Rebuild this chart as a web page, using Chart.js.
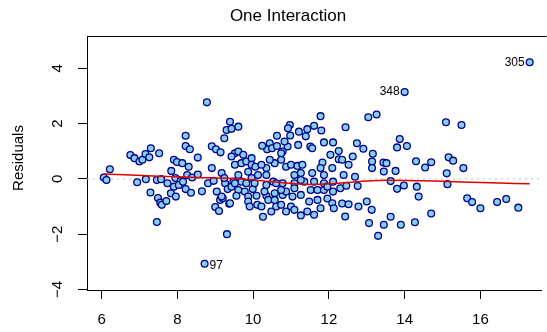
<!DOCTYPE html>
<html>
<head>
<meta charset="utf-8">
<script src="https://cdn.jsdelivr.net/npm/chart.js@4.4.1/dist/chart.umd.min.js"></script>
<style>
  html, body { margin: 0; padding: 0; background: #fff; }
  #wrap { width: 547px; height: 332px; }
</style>
</head>
<body>
<div id="wrap"><canvas id="myChart" width="547" height="332"></canvas></div>
<script>
// fitted values / residuals
var fitted = [
    6.06, 6.13, 6.22, 6.76, 6.87, 7.00, 7.08, 7.16, 7.30, 7.26, 7.52, 6.94, 7.17, 7.46, 7.57, 7.29,
    7.49, 7.55, 7.59, 7.71, 7.46, 7.74, 7.84, 7.91, 7.99, 8.13, 8.30, 8.26, 7.95, 8.09, 7.91, 8.04,
    7.83, 7.96, 8.22, 8.36, 8.15, 8.39, 8.54, 8.54, 8.91, 8.65, 8.81, 8.96, 9.04, 9.13, 9.00, 9.10,
    9.20, 9.37, 9.31, 9.26, 9.33, 9.17, 9.24, 8.78, 9.39, 9.30, 9.43, 9.61, 9.24, 8.22, 8.22, 8.33,
    8.91, 9.02, 9.14, 9.52, 9.43, 9.61, 9.74, 9.52, 9.69, 9.82, 9.61, 9.48, 9.69, 9.43, 9.61, 9.56,
    9.52, 9.39, 9.17, 9.96, 9.96, 10.06, 9.87, 9.96, 10.13, 9.99, 9.78, 9.82, 10.04, 9.87, 10.09, 9.87,
    9.91, 10.11, 10.22, 10.26, 10.35, 10.30, 10.35, 10.35, 10.57, 10.44, 10.37, 10.24, 10.44, 10.63, 10.50, 10.63,
    10.22, 10.40, 10.57, 10.53, 10.48, 10.61, 10.57, 10.35, 10.61, 10.78, 10.74, 10.91, 10.83, 10.97, 10.92, 11.21,
    11.43, 11.61, 11.80, 11.39, 10.98, 11.19, 11.51, 11.56, 11.87, 12.11, 12.26, 11.78, 10.74, 10.87, 11.00, 11.17,
    11.30, 11.09, 11.26, 11.35, 11.56, 11.83, 11.78, 11.87, 10.78, 11.09, 11.61, 11.87, 11.26, 10.78, 10.87, 11.09,
    10.74, 11.04, 11.26, 11.52, 11.70, 11.87, 11.48, 11.70, 10.74, 11.00, 10.87, 11.09, 11.26, 11.43, 11.61, 11.78,
    11.96, 12.04, 12.26, 12.09, 12.35, 12.52, 12.63, 12.44, 12.74, 12.91, 13.16, 13.04, 13.26, 13.14, 13.14, 13.44,
    13.45, 12.39, 12.69, 12.11, 11.96, 12.30, 12.46, 12.76, 12.11, 12.09, 12.35, 12.52, 12.78, 13.00, 13.13, 12.43,
    12.13, 13.06, 13.30, 13.45, 13.87, 13.80, 14.06, 15.09, 15.50, 13.52, 13.76, 14.30, 14.54, 14.70, 15.16, 15.28,
    15.55, 15.11, 13.63, 13.80, 13.98, 14.32, 14.37, 15.13, 15.65, 15.78, 16.00, 16.44, 16.68, 17.00, 14.70, 13.63,
    13.90, 14.27
];
var residuals = [
    0.05, -0.04, 0.35, 0.86, 0.75, 0.63, 0.69, 0.90, 1.11, 0.78, 0.93, -0.12, -0.01, -0.04, -0.01, -0.49,
    -0.69, -0.86, -0.94, -0.80, -1.56, -0.16, 0.29, 0.69, 0.61, 0.57, 0.44, 0.14, 0.03, -0.07, -0.28, -0.22,
    -0.52, -0.64, -0.37, -0.50, -0.10, 0.05, 0.16, 0.77, 0.39, -0.45, -0.16, -0.07, -0.46, -0.76, -1.02, -1.16,
    -0.70, -0.90, -2.00, -0.16, -0.37, 0.21, 0.03, 2.77, 2.07, 1.77, 1.81, 1.89, 1.47, 1.56, 1.19, 1.07,
    1.18, 1.07, 0.96, 0.93, 0.81, 0.99, 0.87, 0.51, 0.57, 0.63, 0.14, -0.10, -0.10, -0.28, -0.40, -0.61,
    -0.16, -0.88, -0.64, 0.75, 0.51, 0.44, 0.26, 0.03, 0.14, -0.37, -0.46, -0.16, -0.16, -0.64, -0.61, -0.82,
    -1.00, -0.94, -1.00, -1.37, -0.61, -0.46, -0.22, 0.39, 0.57, 0.69, 1.07, 1.20, 1.29, 1.56, 1.11, 1.19,
    0.51, -0.76, -0.52, -0.10, -1.18, -1.00, -0.76, 0.14, -0.16, 0.99, 0.69, 1.17, 1.35, 1.95, 1.83, 1.71,
    1.80, 1.92, 1.75, 1.54, 1.57, 1.23, 1.17, 1.11, 1.32, 1.32, 1.01, 2.27, 0.93, 0.44, 0.51, 0.47,
    0.51, 0.14, 0.21, -0.10, 0.21, 0.59, 0.39, 0.14, -0.16, -0.16, -0.10, -0.16, -0.04, -0.58, -0.46, -0.34,
    -0.40, -0.64, -0.58, -0.40, -0.40, -0.40, -0.82, -0.76, -0.94, -1.00, -1.18, -1.12, -1.32, -1.18, -1.30, -1.06,
    -0.71, 0.87, 0.71, 0.39, 0.69, 0.51, 0.81, 1.87, 1.29, 1.09, 0.91, 2.23, 2.33, 0.63, 0.39, 0.59,
    0.27, 0.14, 0.08, -0.10, -0.28, -0.34, -0.25, -0.26, -0.46, -0.88, -0.89, -0.92, -1.00, -0.82, -1.12, -1.36,
    -1.06, -1.60, -2.06, -1.66, 1.44, 1.14, 1.19, 2.05, 1.95, 0.57, 0.29, 0.64, 0.41, 0.60, 0.78, 0.66,
    0.39, 0.20, -0.08, -0.36, -0.24, -0.28, -0.64, -0.19, -0.70, -0.84, -1.06, -0.84, -0.73, -1.04, -1.25, -1.37,
    -1.66, -1.57
];

// labelled observations
var tagNames = ["97", "348", "305"];
var tagFitted = [8.72, 14.00, 17.30];
var tagResid = [-3.07, 3.14, 4.22];
var tagSide = ["right", "left", "left"];

// smoother (red)
var smoothX = [6.05, 7.5, 8.5, 9.5, 10.5, 11.0, 11.5, 12.0, 12.5, 13.0, 13.5, 14.5, 15.5, 16.5, 17.3];
var smoothY = [0.18, 0.10, 0.05, 0.01, -0.10, -0.16, -0.20, -0.18, -0.13, -0.08, -0.05, -0.07, -0.11, -0.15, -0.18];

var xTicks = [6, 8, 10, 12, 14, 16];
var yTicks = [-4, -2, 0, 2, 4];
var xMin = 5.616, xMax = 17.617;
var yMin = -4.02, yMax = 5.17;

var FONT = "'Liberation Sans', Arial, Helvetica, sans-serif";

var pts = [];
for (var i = 0; i < fitted.length; i++) {
    pts.push({x: fitted[i], y: residuals[i]});
}
for (var i = 0; i < tagNames.length; i++) {
    pts.push({x: tagFitted[i], y: tagResid[i]});
}
var smooth = [];
for (var i = 0; i < smoothX.length; i++) {
    smooth.push({x: smoothX[i], y: smoothY[i]});
}

function minusLabel(v) {
    return v < 0 ? "\u2212" + Math.abs(v) : String(v);
}

var decor = {
    id: "decor",
    afterDraw: function (chart) {
        var ctx = chart.ctx, area = chart.chartArea;
        var xs = chart.scales.x, ys = chart.scales.y;
        ctx.save();
        // box: top edge (right edge lies off the picture)
        ctx.strokeStyle = "#000";
        ctx.lineWidth = 1;
        ctx.beginPath();
        ctx.moveTo(area.left, area.top + 0.5);
        ctx.lineTo(area.right + 5, area.top + 0.5);
        ctx.stroke();

        ctx.fillStyle = "#000";
        // title
        ctx.font = "17px " + FONT;
        ctx.textAlign = "center";
        ctx.textBaseline = "middle";
        ctx.fillText("One Interaction", 288, 16);

        // y tick labels, rotated like R
        ctx.font = "15px " + FONT;
        yTicks.forEach(function (v) {
            var py = ys.getPixelForValue(v);
            ctx.save();
            ctx.translate(58, py);
            ctx.rotate(-Math.PI / 2);
            ctx.textAlign = "center";
            ctx.textBaseline = "middle";
            ctx.fillText(minusLabel(v), 0, 0);
            ctx.restore();
        });

        // y axis title
        ctx.save();
        ctx.translate(19, 158);
        ctx.rotate(-Math.PI / 2);
        ctx.textAlign = "center";
        ctx.textBaseline = "middle";
        ctx.fillText("Residuals", 0, 0);
        ctx.restore();

        // point tags
        ctx.font = "12px " + FONT;
        ctx.textBaseline = "middle";
        for (var i = 0; i < tagNames.length; i++) {
            var px = xs.getPixelForValue(tagFitted[i]);
            var py = ys.getPixelForValue(tagResid[i]);
            if (tagSide[i] === "right") {
                ctx.textAlign = "left";
                ctx.fillText(tagNames[i], px + 5, py + 2);
            } else {
                ctx.textAlign = "right";
                ctx.fillText(tagNames[i], px - 5, py);
            }
        }
        ctx.restore();
    }
};

var ctx = document.getElementById("myChart").getContext("2d");
var mychart = new Chart(ctx, {
    type: "scatter",
    data: {
        datasets: [
            {
                type: "line",
                label: "smooth",
                data: smooth,
                borderColor: "#E00000",
                borderWidth: 1.5,
                pointRadius: 0,
                fill: false,
                tension: 0.4,
                order: 0
            },
            {
                label: "residuals",
                data: pts,
                backgroundColor: "#87CEEB",
                borderColor: "#00008B",
                borderWidth: 1.3,
                pointRadius: 3.4,
                order: 1
            },
            {
                type: "line",
                label: "zero",
                data: [{x: xMin, y: 0}, {x: xMax, y: 0}],
                borderColor: "#BEBEBE",
                borderWidth: 1,
                borderDash: [2, 4],
                pointRadius: 0,
                fill: false,
                order: 2
            }
        ]
    },
    options: {
        responsive: false,
        animation: false,
        devicePixelRatio: 1,
        layout: {padding: {top: 36, right: 0, left: 0, bottom: 0}},
        plugins: {
            legend: {display: false},
            tooltip: {enabled: false},
            title: {display: false}
        },
        scales: {
            x: {
                type: "linear",
                min: xMin,
                max: xMax,
                afterBuildTicks: function (scale) {
                    scale.ticks = xTicks.map(function (v) { return {value: v}; });
                },
                afterFit: function (scale) { scale.height = 42; },
                grid: {
                    display: true,
                    drawOnChartArea: false,
                    drawTicks: true,
                    tickLength: 9,
                    color: "#000"
                },
                border: {display: true, color: "#000", width: 1},
                ticks: {
                    color: "#000",
                    font: {family: FONT, size: 15},
                    padding: 12,
                    maxRotation: 0,
                    autoSkip: false,
                    callback: function (v) { return String(v); }
                }
            },
            y: {
                type: "linear",
                min: yMin,
                max: yMax,
                afterBuildTicks: function (scale) {
                    scale.ticks = yTicks.map(function (v) { return {value: v}; });
                },
                afterFit: function (scale) { scale.width = 87; },
                grid: {
                    display: true,
                    drawOnChartArea: false,
                    drawTicks: true,
                    tickLength: 9,
                    color: "#000"
                },
                border: {display: true, color: "#000", width: 1},
                ticks: {display: false}
            }
        }
    },
    plugins: [decor]
});
</script>
</body>
</html>
